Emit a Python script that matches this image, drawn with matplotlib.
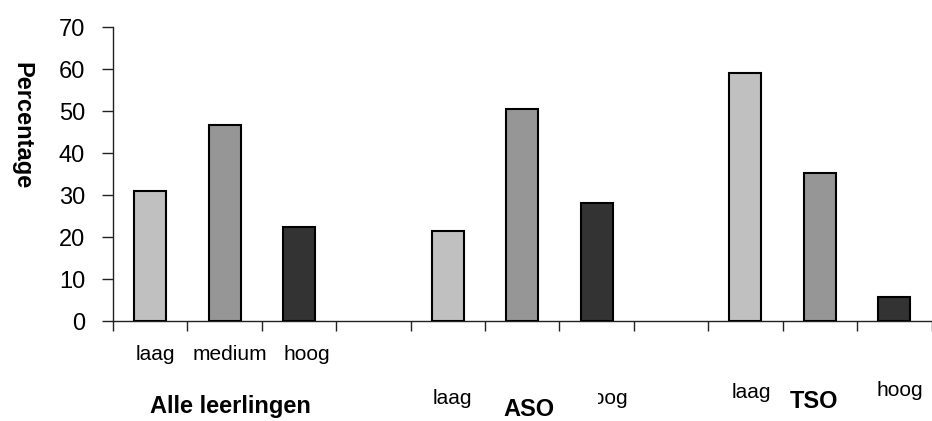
import matplotlib
matplotlib.use("Agg")
import matplotlib.pyplot as plt
from matplotlib.patches import Rectangle

plt.rcParams['font.family'] = ['Liberation Sans', 'DejaVu Sans']

# ---- data ----
groups = ["Alle leerlingen", "ASO", "TSO"]
levels = ["laag", "medium", "hoog"]
alle_values = [31.0, 46.7, 22.4]
aso_values = [21.4, 50.5, 28.1]
tso_values = [59.0, 35.2, 5.7]
yticks = [0, 10, 20, 30, 40, 50, 60, 70]
ylabel = "Percentage"

colors = ["#c0c0c0", "#969696", "#333333"]

W, H = 932, 421
fig = plt.figure(figsize=(W / 100, H / 100), dpi=100)
ax = fig.add_axes([113 / W, 1 - 321 / H, (931.5 - 113) / W, (321 - 27) / H])

series = [alle_values, aso_values, tso_values]
for g, vals in enumerate(series):
    for i, v in enumerate(vals):
        x = g * 4 + i
        ax.bar(x, v, width=0.43, color=colors[i], edgecolor="black",
               linewidth=1.5, zorder=3)

ax.set_xlim(-0.5, 10.5)
ax.set_ylim(0, 70)
ax.set_yticks(yticks)
ax.set_yticklabels([str(t) for t in yticks], fontsize=17)
ax.set_xticks([k - 0.5 for k in range(12)])
ax.set_xticklabels([])
ax.tick_params(axis="x", direction="out", length=7, width=1, color="#222222")
ax.tick_params(axis="y", direction="out", length=8, width=1, color="#222222", pad=12)
for s in ["top", "right"]:
    ax.spines[s].set_visible(False)
ax.spines["left"].set_color("#222222")
ax.spines["bottom"].set_color("#222222")
ax.spines["left"].set_linewidth(1)
ax.spines["bottom"].set_linewidth(1)

fig.text(22 / W, 1 - 126 / H, ylabel, rotation=-90, fontsize=17,
         fontweight="bold", ha="center", va="center")

def ft(px, py, s, **kw):
    return fig.text(px / W, 1 - py / H, s, ha="center", va="center", **kw)

# group 1 level labels
for (px, py), s in zip([(155, 355), (230, 355), (307, 355)], levels):
    ft(px, py, s, fontsize=15)
ft(230, 407, groups[0], fontsize=17, fontweight="bold")

# ASO labels
ft(452, 398, levels[0], fontsize=15)
ft(605, 398, levels[2], fontsize=15, zorder=3)
fig.patches.append(Rectangle((480 / W, 0), (598 - 480) / W, 1 - 384 / H,
                             transform=fig.transFigure, facecolor="white",
                             edgecolor="none", zorder=4))
ft(529, 410, groups[1], fontsize=17, fontweight="bold", zorder=5)

# TSO labels
ft(751, 393, levels[0], fontsize=15)
ft(814, 402, groups[2], fontsize=17, fontweight="bold")
ft(900, 390, levels[2], fontsize=15)

fig.savefig("out.png", dpi=100)
